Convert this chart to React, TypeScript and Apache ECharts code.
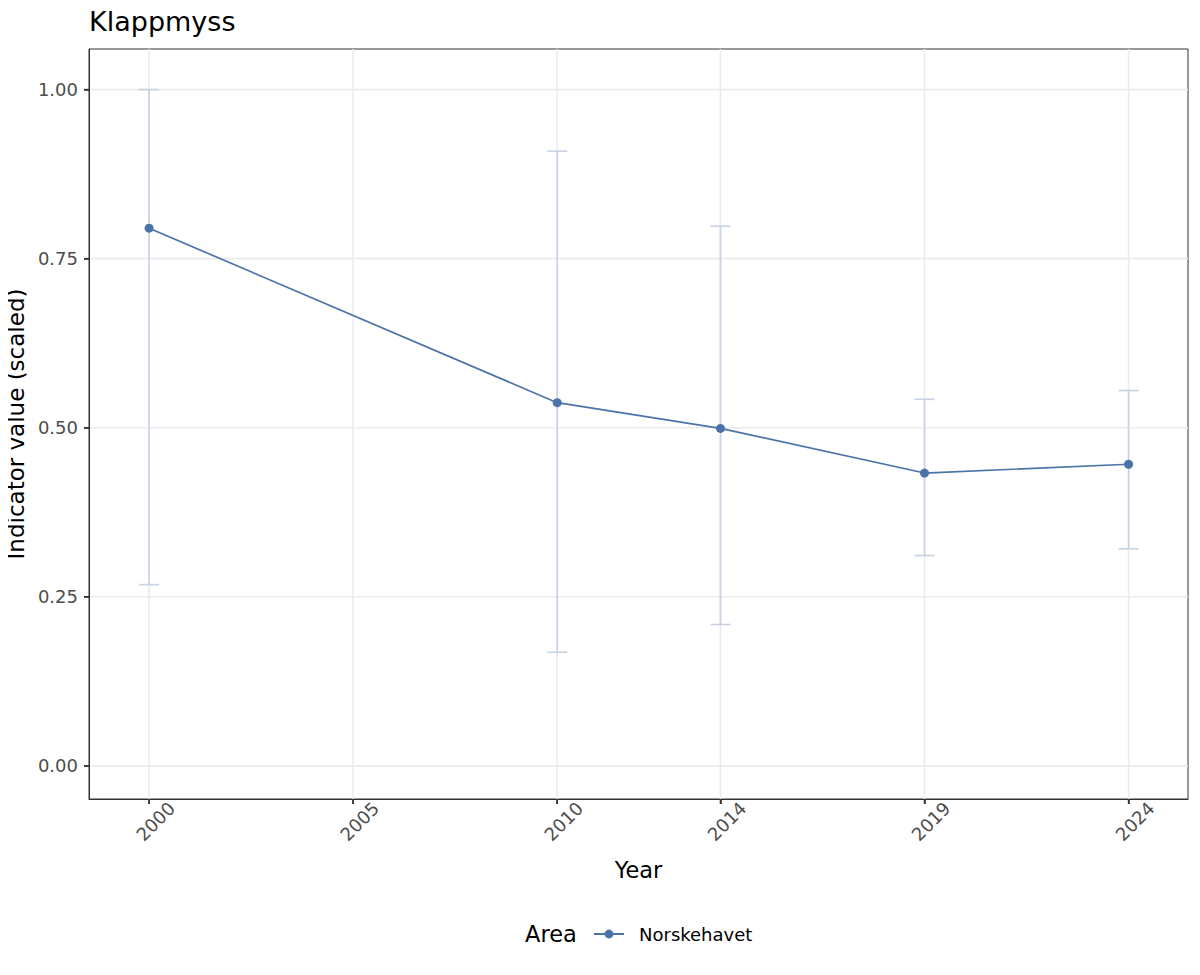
import React, { useEffect, useRef } from "react";
import * as echarts from "echarts";

const years = [2000, 2010, 2014, 2019, 2024];
const values = [0.795, 0.537, 0.499, 0.433, 0.446];
const lower = [0.268, 0.168, 0.209, 0.311, 0.321];
const upper = [1.0, 0.909, 0.798, 0.542, 0.555];
const xBreaks = [2000, 2005, 2010, 2014, 2019, 2024];
const yBreaks = [0, 0.25, 0.5, 0.75, 1];
const seriesName = "Norskehavet";
const titleText = "Klappmyss";

const FONT = "DejaVu Sans";
const LINE_COLOR = "#4A74A8";
const ERR_COLOR = "#C6D2E4";
const GRID_COLOR = "#EBEBEB";
const TICK_COLOR = "#333333";

export default function App() {
  const ref = useRef<HTMLDivElement>(null);
  useEffect(() => {
    if (!ref.current) return;
    const chart = echarts.init(ref.current, null, { renderer: "svg" });
    const option: any = {
      animation: false,
      backgroundColor: "#fff",
      textStyle: { fontFamily: FONT },
      title: {
        text: titleText,
        left: 84,
        top: 3,
        textStyle: { fontFamily: FONT, fontSize: 27, fontWeight: "normal", color: "#000" },
      },
      grid: {
        left: 89,
        right: 12,
        top: 49,
        bottom: 176,
        show: true,
        containLabel: false,
        outerBoundsMode: "none",
        borderColor: "#333333",
        borderWidth: 1,
        backgroundColor: "transparent",
      },
      xAxis: {
        type: "value",
        min: 1998.527,
        max: 2025.456,
        name: "Year",
        nameLocation: "middle",
        nameGap: 59,
        nameTextStyle: { fontFamily: FONT, fontSize: 22.5, color: "#000" },
        axisLine: { show: true, onZero: false, lineStyle: { color: "#333", width: 1 } },
        splitLine: { show: false },
        axisTick: { show: true, inside: false, length: 5, customValues: xBreaks, lineStyle: { color: TICK_COLOR, width: 1.5 } },
        axisLabel: {
          customValues: xBreaks,
          rotate: 45,
          align: "center",
          verticalAlign: "top",
          fontFamily: FONT,
          fontSize: 18,
          color: "#4D4D4D",
          margin: 16,
          formatter: (v: number) => String(v),
        },
      },
      yAxis: {
        type: "value",
        min: -0.049,
        max: 1.06,
        name: "Indicator value (scaled)",
        nameLocation: "middle",
        nameRotate: 90,
        nameGap: 57,
        nameTextStyle: { fontFamily: FONT, fontSize: 23, color: "#000" },
        axisLine: { show: true, onZero: false, lineStyle: { color: "#333", width: 1 } },
        splitLine: { show: false },
        axisTick: { show: true, inside: false, length: 5, customValues: yBreaks, lineStyle: { color: TICK_COLOR, width: 1.5 } },
        axisLabel: {
          customValues: yBreaks,
          fontFamily: FONT,
          fontSize: 18,
          color: "#4D4D4D",
          margin: 11,
          formatter: (v: number) => v.toFixed(2),
        },
      },
      legend: {
        show: true,
        top: 920,
        left: 588,
        itemWidth: 30,
        itemHeight: 11,
        itemGap: 10,
        data: [{ name: seriesName }],
        textStyle: { fontFamily: FONT, fontSize: 18, color: "#000", padding: [0, 0, 0, 10] },
      },
      graphic: [
        {
          type: "text",
          left: 525,
          top: 922,
          style: { text: "Area", fontFamily: FONT, fontSize: 22.5, fill: "#000" },
        },
      ],
      series: [
        {
          type: "custom",
          name: "vgrid",
          silent: true,
          clip: false,
          z: 0,
          data: xBreaks.map((v) => [v, 0]),
          encode: { x: 0, y: 1 },
          renderItem: (params: any, api: any) => {
            const cs = params.coordSys;
            const p = api.coord([api.value(0), 0]);
            const yb = cs.y + cs.height;
            return {
              type: "group",
              children: [
                {
                  type: "line",
                  shape: { x1: p[0], y1: cs.y, x2: p[0], y2: yb },
                  style: { stroke: GRID_COLOR, lineWidth: 1.6 },
                },
                {
                  type: "line",
                  z2: 10,
                  shape: { x1: p[0], y1: yb, x2: p[0], y2: yb + 5 },
                  style: { stroke: TICK_COLOR, lineWidth: 1.5 },
                },
              ],
            };
          },
        },
        {
          type: "custom",
          name: "hgrid",
          silent: true,
          clip: false,
          z: 0,
          data: yBreaks.map((v) => [2010, v]),
          encode: { x: 0, y: 1 },
          renderItem: (params: any, api: any) => {
            const cs = params.coordSys;
            const p = api.coord([2010, api.value(1)]);
            return {
              type: "group",
              children: [
                {
                  type: "line",
                  shape: { x1: cs.x, y1: p[1], x2: cs.x + cs.width, y2: p[1] },
                  style: { stroke: GRID_COLOR, lineWidth: 1.6 },
                },
                {
                  type: "line",
                  z2: 10,
                  shape: { x1: cs.x - 5, y1: p[1], x2: cs.x, y2: p[1] },
                  style: { stroke: TICK_COLOR, lineWidth: 1.5 },
                },
              ],
            };
          },
        },
        {
          type: "custom",
          name: "errorbars",
          silent: true,
          z: 1,
          data: years.map((y, i) => [y, lower[i], upper[i]]),
          encode: { x: 0, y: [1, 2] },
          renderItem: (params: any, api: any) => {
            const x = api.value(0);
            const lo = api.coord([x, api.value(1)]);
            const hi = api.coord([x, api.value(2)]);
            const hw = api.size([0.245, 0])[0];
            const st = { stroke: ERR_COLOR, lineWidth: 1.6 };
            return {
              type: "group",
              children: [
                { type: "line", shape: { x1: lo[0], y1: lo[1], x2: hi[0], y2: hi[1] }, style: st },
                { type: "line", shape: { x1: lo[0] - hw, y1: lo[1], x2: lo[0] + hw, y2: lo[1] }, style: st },
                { type: "line", shape: { x1: hi[0] - hw, y1: hi[1], x2: hi[0] + hw, y2: hi[1] }, style: st },
              ],
            };
          },
        },
        {
          type: "line",
          name: seriesName,
          z: 3,
          data: years.map((y, i) => [y, values[i]]),
          symbol: "circle",
          symbolSize: 9,
          showSymbol: true,
          lineStyle: { color: LINE_COLOR, width: 1.7 },
          itemStyle: { color: LINE_COLOR },
        },
      ],
    };
    chart.setOption(option);
    return () => chart.dispose();
  }, []);
  return <div ref={ref} style={{ width: 1200, height: 975, margin: -8 }} />;
}
